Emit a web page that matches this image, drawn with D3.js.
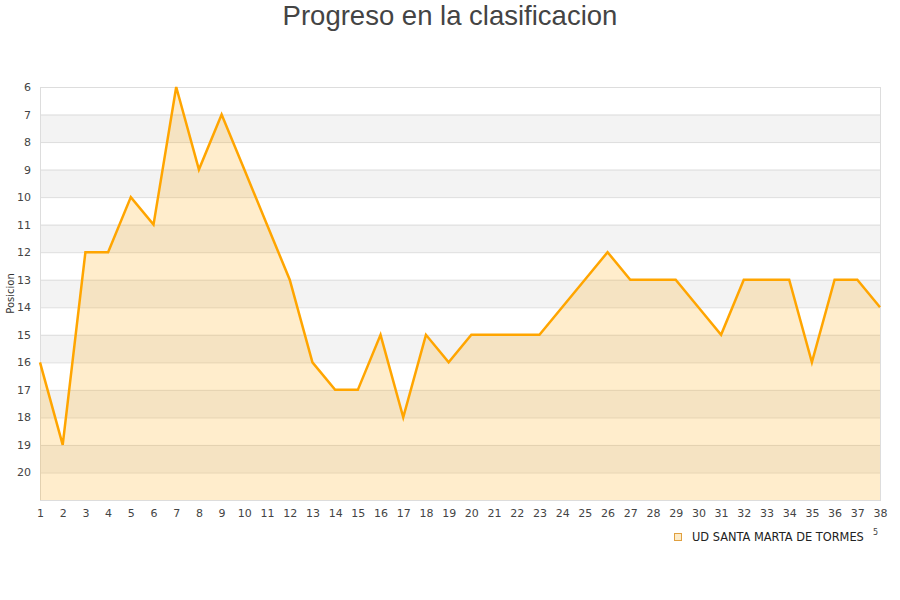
<!DOCTYPE html>
<html>
<head>
<meta charset="utf-8">
<script src="https://cdn.jsdelivr.net/npm/d3@7"></script>
<style>
  body { margin: 0; background: #fff; }
  text { font-family: "DejaVu Sans", sans-serif; }
</style>
</head>
<body>
<div id="chart"></div>
<script>
// jornadas y posicion
let rounds = d3.range(1, 39);
let positions = [16, 19, 12, 12, 10, 11, 6, 9, 7, 9,
                 11, 13, 16, 17, 17, 15, 18, 15, 16, 15,
                 15, 15, 15, 14, 13, 12, 13, 13, 13, 14,
                 15, 13, 13, 13, 16, 13, 13, 14];
let yTicks = d3.range(6, 21);
let teamName = 'UD SANTA MARTA DE TORMES';

let width = 900, height = 600;
let margin = ({top: 87, right: 20, bottom: 100, left: 40});

let svg = d3.select('#chart').append('svg')
    .attr('width', width)
    .attr('height', height);

let x = d3.scaleLinear()
    .domain([1, 38])
    .range([margin.left, width - margin.right]);

let y = d3.scaleLinear()
    .domain([6, 21])
    .range([margin.top, height - margin.bottom]);

// bandas alternas
svg.append('g')
    .selectAll('rect')
    .data(d3.range(6, 21))
    .enter().append('rect')
    .attr('x', x(1))
    .attr('y', d => y(d))
    .attr('width', x(38) - x(1))
    .attr('height', d => y(d + 1) - y(d))
    .attr('fill', d => d % 2 === 1 ? '#f3f3f3' : '#ffffff');

// lineas de rejilla
svg.append('g')
    .selectAll('line')
    .data(yTicks)
    .enter().append('line')
    .attr('x1', x(1))
    .attr('x2', x(38))
    .attr('y1', d => y(d) + 0.5)
    .attr('y2', d => y(d) + 0.5)
    .attr('stroke', '#dddddd');

svg.append('rect')
    .attr('x', x(1) + 0.5)
    .attr('y', y(6) + 0.5)
    .attr('width', x(38) - x(1))
    .attr('height', y(21) - y(6))
    .attr('fill', 'none')
    .attr('stroke', '#dddddd');

let data = rounds.map((r, i) => ({r: r, p: positions[i]}));

let area = d3.area()
    .x(d => x(d.r))
    .y0(y(21))
    .y1(d => y(d.p));

svg.append('path')
    .datum(data)
    .attr('d', area)
    .attr('fill', '#ffa500')
    .attr('fill-opacity', 0.2);

let line = d3.line()
    .x(d => x(d.r))
    .y(d => y(d.p));

svg.append('path')
    .datum(data)
    .attr('d', line)
    .attr('fill', 'none')
    .attr('stroke', '#ffa500')
    .attr('stroke-width', 2.5)
    .attr('stroke-linejoin', 'miter');

// ejes
let yAxis = svg.append('g')
    .attr('transform', `translate(${margin.left - 9}, 0)`)
    .call(d3.axisLeft(y).tickValues(yTicks).tickSize(0).tickPadding(0));
yAxis.select('.domain').remove();
yAxis.selectAll('text')
    .attr('fill', '#444')
    .style('font-size', '11px');

let xAxis = svg.append('g')
    .attr('transform', `translate(0, ${y(21) + 9})`)
    .call(d3.axisBottom(x).tickValues(rounds).tickFormat(d3.format('d')).tickSize(0).tickPadding(0));
xAxis.select('.domain').remove();
xAxis.selectAll('text')
    .attr('fill', '#444')
    .style('font-size', '11px');

svg.append('text')
    .attr('transform', `translate(14, ${(y(6) + y(21)) / 2}) rotate(-90)`)
    .attr('text-anchor', 'middle')
    .attr('fill', '#333')
    .style('font-size', '10px')
    .text('Posicion');

svg.append('text')
    .attr('x', width / 2)
    .attr('y', 25)
    .attr('text-anchor', 'middle')
    .attr('fill', '#444')
    .style('font-family', '"Liberation Sans", Arial, sans-serif')
    .style('font-size', '27.5px')
    .text('Progreso en la clasificacion');

// leyenda
svg.append('rect')
    .attr('x', 674.5)
    .attr('y', 533.5)
    .attr('width', 7)
    .attr('height', 7)
    .attr('fill', '#fdebc7')
    .attr('stroke', '#e0a040');

svg.append('text')
    .attr('x', 692)
    .attr('y', 541)
    .attr('fill', '#222')
    .style('font-size', '11.4px')
    .text(teamName);

svg.append('text')
    .attr('x', 873)
    .attr('y', 535)
    .attr('fill', '#444')
    .style('font-size', '8px')
    .text('5');
</script>
</body>
</html>
